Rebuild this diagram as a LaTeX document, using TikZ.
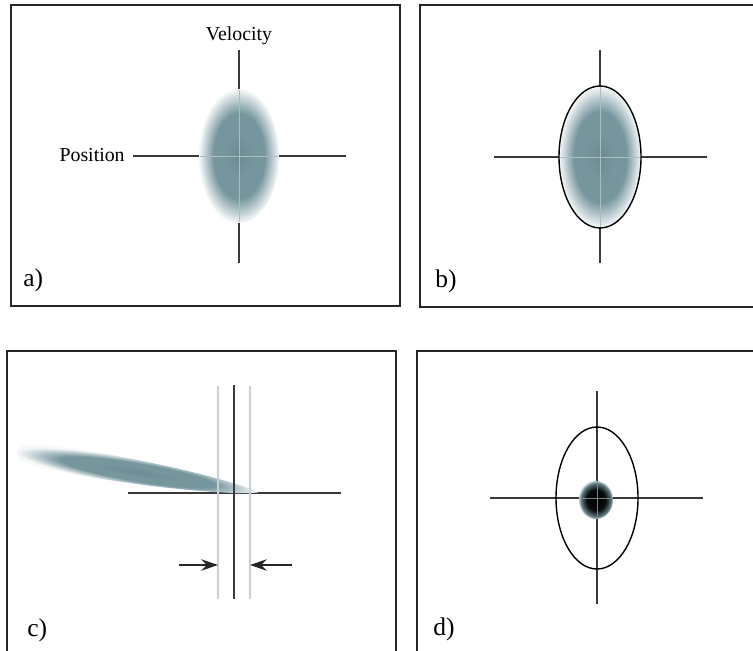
\documentclass[tikz,border=0pt]{standalone}
\usepackage{fontspec}
\setmainfont{Liberation Serif}
\usetikzlibrary{arrows.meta,positioning,calc}
\definecolor{blobc}{RGB}{118,150,158}
\definecolor{axisc}{RGB}{58,58,58}
\definecolor{guidec}{RGB}{200,208,212}
\definecolor{insidec}{RGB}{168,190,196}
\pgfdeclareradialshading{cloud}{\pgfpoint{0bp}{0bp}}{color(0bp)=(blobc!92!black); color(9bp)=(blobc); color(16bp)=(blobc); color(25bp)=(blobc!6!white); color(50bp)=(white)}
\pgfdeclareradialshading{core}{\pgfpoint{0bp}{0bp}}{color(0bp)=(black); color(14bp)=(black!92!blobc); color(22bp)=(blobc!80!black); color(25bp)=(blobc!45!white); color(50bp)=(white)}
\tikzset{
	frame/.style={draw=black!85, line width=0.9pt},
	axis/.style={draw=axisc, line width=0.8pt},
	inaxis/.style={draw=insidec, line width=0.5pt},
	guide/.style={draw=guidec, line width=1pt},
	tag/.style={font=\fontsize{14.5}{16}\selectfont, anchor=base west, inner sep=0pt},
	axlabel/.style={font=\fontsize{11.3}{13}\selectfont, inner sep=0pt},
	pointer/.style={-{Stealth[length=9.5pt,width=6.5pt]}, draw=black!85, line width=0.8pt}
}
\begin{document}
\begin{tikzpicture}[x=0.02cm, y=-0.02cm]
	\clip (0,0) rectangle (753,651);
	% Panel frames and their letters
	\foreach \x/\y/\X/\Y in {11/5/400/306, 420/5/770/307, 7/351/396/670, 417/351/770/670} {
		\draw[frame] (\x,\y) rectangle (\X,\Y);
	}
	\foreach \x/\y/\t in {23/287/a, 435/288/b, 27/636/c, 433/635/d} {
		\node[tag] (tag\t) at (\x,\y) {\t)};
	}
	% Centres of the four phase planes
	\coordinate (a) at (239,156);
	\coordinate (b) at (600,157);
	\coordinate (c) at (234,493);
	\coordinate (d) at (597,498);
	
	% a) spread cloud
	\draw[axis] (a) ++(0,-106) -- ++(0,213) (a) ++(-106,0) -- ++(213,0);
	\shade[shading=cloud] (a) ellipse [x radius=40, y radius=67];
	\draw[inaxis] (a) ++(0,-66) -- ++(0,132) (a) ++(-39,0) -- ++(78,0);
	\node[axlabel] (vel) at (239,36) {Velocity};
	\node[axlabel, anchor=east] (pos) at ($(a)+(-114,-1)$) {Position};
	
	% b) cloud with its outline
	\draw[axis] (b) ++(0,-107) -- ++(0,213) (b) ++(-106,0) -- ++(213,0);
	\shade[shading=cloud] (b) ellipse [x radius=41, y radius=71];
	\draw[inaxis] (b) ++(0,-70) -- ++(0,140) (b) ++(-40,0) -- ++(80,0);
	\draw[axis, draw=black] (b) ellipse [x radius=41, y radius=71];
	
	% c) sheared cloud and the slit
	\draw[axis] (c) ++(-106,0) -- ++(213,0);
	\begin{scope}[transform canvas={rotate around={-9.5:(137,472)}}]
		\shade[shading=cloud] (15,472) .. controls (15,458) and (60,458) .. (137,460)
			.. controls (200,462) and (250,468) .. (260,472)
			.. controls (250,476) and (200,482) .. (137,484)
			.. controls (60,486) and (15,486) .. (15,472) -- cycle;
	\end{scope}
	\draw[guide] (218,386) -- (218,599);
	\draw[guide] (250,386) -- (250,599);
	\draw[axis] (c) ++(0,-108) -- ++(0,214);
	\coordinate (inL) at (179,565);
	\coordinate (inR) at (292,565);
	\coordinate (slitL) at (218,565);
	\coordinate (slitR) at (250,565);
	\draw[pointer] (inL) -- (slitL);
	\draw[pointer] (inR) -- (slitR);
	
	% d) compressed core inside the old outline
	\draw[axis] (d) ++(0,-107) -- ++(0,213) (d) ++(-107,0) -- ++(213,0);
	\draw[axis, draw=black] (d) ellipse [x radius=41, y radius=71];
	\shade[shading=core] ($(d)+(-1,2)$) ellipse [x radius=17, y radius=19];
	\draw[draw=gray, line width=0.5pt] (d) ++(0,-17) -- ++(0,36) (d) ++(-16,0) -- ++(32,0);
\end{tikzpicture}
\end{document}
